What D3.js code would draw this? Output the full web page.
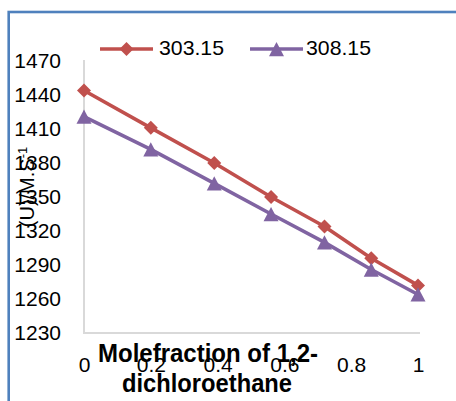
<!DOCTYPE html>
<html>
<head>
<meta charset="utf-8">
<script src="https://cdn.jsdelivr.net/npm/d3@7"></script>
<style>
  html, body { margin: 0; padding: 0; background: #fff; }
  svg { display: block; }
  text { font-family: "Liberation Sans", Arial, sans-serif; }
</style>
</head>
<body>
<svg id="chart" width="456" height="401"></svg>
<script>
// ---- data ----
const moleFraction = [0, 0.2, 0.39, 0.56, 0.72, 0.86, 1];
const seriesNames = ["303.15", "308.15"];
const values303 = [1444, 1411, 1380, 1350, 1324, 1296, 1272];
const values308 = [1421, 1392, 1362, 1335, 1310, 1286, 1264];
const xTicks = [0, 0.2, 0.4, 0.6, 0.8, 1];
const yTicks = [1230, 1260, 1290, 1320, 1350, 1380, 1410, 1440, 1470];
const xTitle = ["Molefraction of 1,2-", "dichloroethane"];
const yTitle = "(U)/M.S";
const yTitleSup = "-1";

const colors = ["#c0504d", "#8064a2"];

const svg = d3.select("#chart");
svg.append("rect").attr("width", 456).attr("height", 401).attr("fill", "#fff");

// outer frame (extends beyond picture to right/bottom)
svg.append("rect")
  .attr("x", 8.7).attr("y", 12).attr("width", 500).attr("height", 450)
  .attr("fill", "none").attr("stroke", "#4f81bd").attr("stroke-width", 2.6);

const x = d3.scaleLinear().domain([0, 1]).range([84, 418]);
const y = d3.scaleLinear().domain([1230, 1470]).range([333, 61]);

// axis lines
svg.append("line").attr("x1", 84).attr("x2", 84).attr("y1", 60).attr("y2", 333)
  .attr("stroke", "#d9d9d9").attr("stroke-width", 2);
svg.append("line").attr("x1", 83).attr("x2", 420).attr("y1", 333).attr("y2", 333)
  .attr("stroke", "#d9d9d9").attr("stroke-width", 2);

// y axis labels
const yAxis = svg.append("g").attr("transform", "translate(84,0)")
  .call(d3.axisLeft(y).tickValues(yTicks).tickSize(0).tickPadding(23).tickFormat(d3.format("d")));
yAxis.select(".domain").remove();
yAxis.selectAll("text").attr("font-size", 21).attr("fill", "#000")
  .attr("font-family", "Liberation Sans, Arial, sans-serif");

// x axis labels
const xAxis = svg.append("g").attr("transform", "translate(0,333)")
  .call(d3.axisBottom(x).tickValues(xTicks).tickSize(0).tickPadding(24).tickFormat(d3.format("")));
xAxis.select(".domain").remove();
xAxis.selectAll("text").attr("font-size", 21).attr("fill", "#000")
  .attr("font-family", "Liberation Sans, Arial, sans-serif");

// marker shapes
const diamondType = { draw(ctx, size) { const r = Math.sqrt(size) / 2; ctx.moveTo(0, -r); ctx.lineTo(r, 0); ctx.lineTo(0, r); ctx.lineTo(-r, 0); ctx.closePath(); } };
const triangleType = { draw(ctx, size) { const w = Math.sqrt(size) / 2; const h = w * 0.95; ctx.moveTo(0, -h); ctx.lineTo(w, h); ctx.lineTo(-w, h); ctx.closePath(); } };
const diamond = d3.symbol(diamondType, 196);
const triangle = d3.symbol(triangleType, 225);

// series
const series = [values303, values308];
const line = d3.line().x((d, i) => x(moleFraction[i])).y(d => y(d));

series.forEach((vals, si) => {
  svg.append("path").datum(vals).attr("d", line)
    .attr("fill", "none").attr("stroke", colors[si]).attr("stroke-width", 3.6)
    .attr("stroke-linejoin", "round");
});
series.forEach((vals, si) => {
  svg.selectAll(null).data(vals).enter().append("path")
    .attr("d", si === 0 ? diamond : triangle)
    .attr("transform", (d, i) => `translate(${x(moleFraction[i])},${y(d)})`)
    .attr("fill", colors[si]);
});

// legend
const legendItems = [
  { x1: 100, x2: 153, tx: 159 },
  { x1: 250, x2: 303, tx: 306 }
];
legendItems.forEach((it, si) => {
  const ly = 49;
  svg.append("line").attr("x1", it.x1).attr("x2", it.x2).attr("y1", ly).attr("y2", ly)
    .attr("stroke", colors[si]).attr("stroke-width", 3.6);
  svg.append("path").attr("d", si === 0 ? diamond : triangle)
    .attr("transform", `translate(${(it.x1 + it.x2) / 2},${ly})`)
    .attr("fill", colors[si]);
  svg.append("text").attr("x", it.tx).attr("y", 55).attr("font-size", 21).attr("fill", "#000")
    .attr("textLength", 65).attr("lengthAdjust", "spacingAndGlyphs")
    .text(seriesNames[si]);
});

// x title
svg.append("text").attr("x", 208).attr("y", 361.5).attr("text-anchor", "middle")
  .attr("font-size", 25).attr("font-weight", "bold").attr("fill", "#000")
  .attr("textLength", 220).attr("lengthAdjust", "spacingAndGlyphs")
  .text(xTitle[0]);
svg.append("text").attr("x", 207).attr("y", 391.5).attr("text-anchor", "middle")
  .attr("font-size", 25).attr("font-weight", "bold").attr("fill", "#000")
  .attr("textLength", 170).attr("lengthAdjust", "spacingAndGlyphs")
  .text(xTitle[1]);

// y title
const yt = svg.append("text")
  .attr("transform", "translate(34,187) rotate(-90)")
  .attr("text-anchor", "middle").attr("font-size", 20).attr("fill", "#000");
yt.append("tspan").text(yTitle);
yt.append("tspan").attr("dy", -7).attr("font-size", 13).text(yTitleSup);
</script>
</body>
</html>
